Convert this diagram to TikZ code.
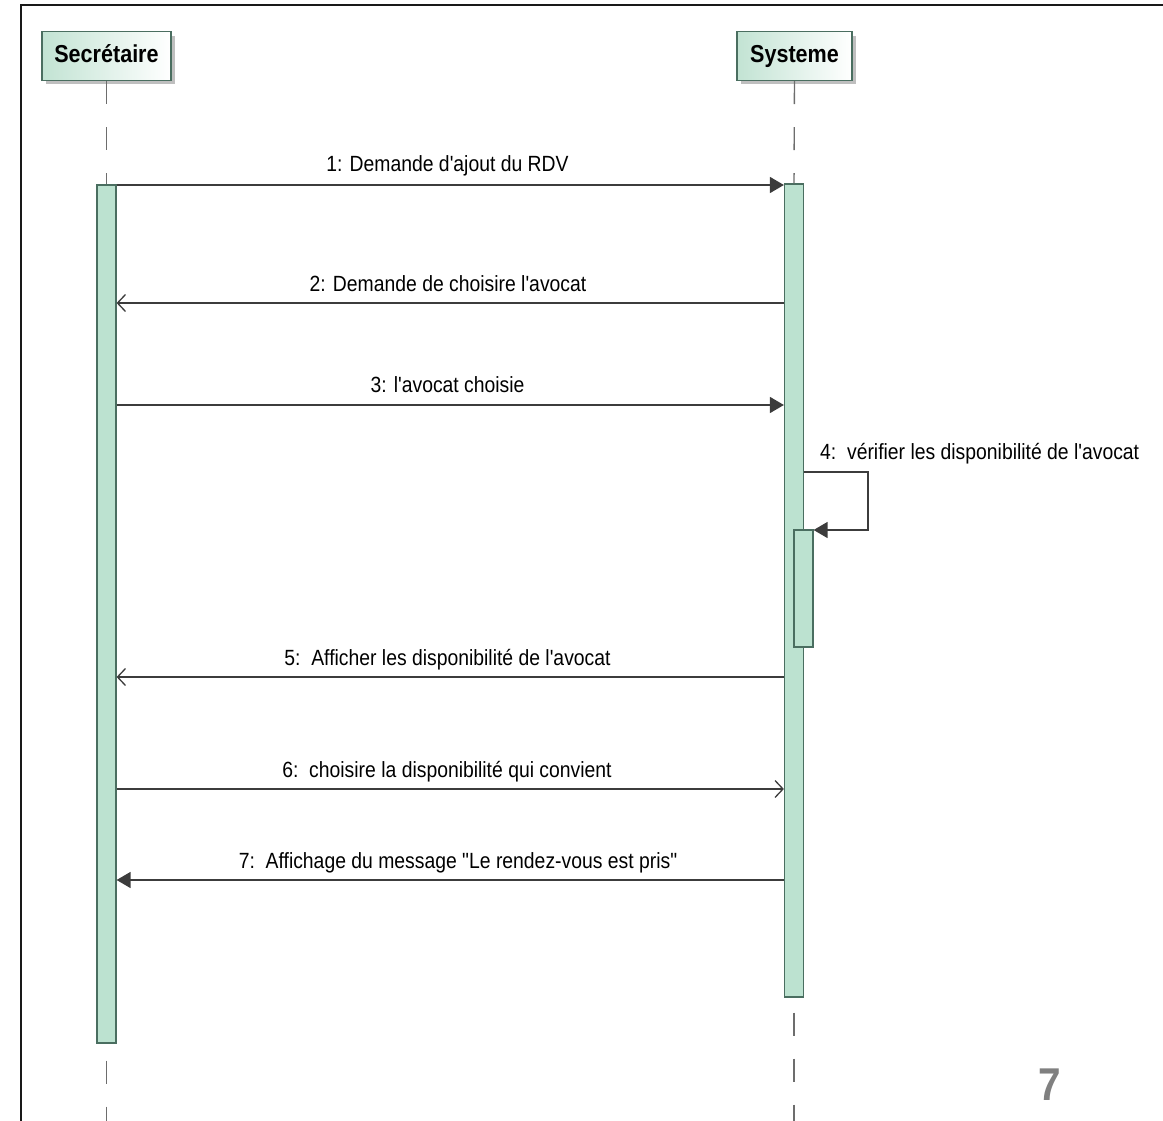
\documentclass[tikz,border=0pt]{standalone}
\usepackage{fontspec}
\setmainfont{Liberation Sans}[FakeStretch=0.88,Ligatures=TeXOff]
\usetikzlibrary{arrows.meta,calc}
\definecolor{barfill}{HTML}{BCE2D0}
\definecolor{barline}{HTML}{4A6E60}
\definecolor{headleft}{HTML}{C2E3D3}
\definecolor{ink}{HTML}{3C3C3C}
\newcommand{\headtext}[1]{\raisebox{4pt}{#1}}
\begin{document}
\begin{tikzpicture}[x=1pt,y=-1pt,
  head/.style={draw=barline,line width=1.4pt,minimum height=49pt,inner sep=0pt,
    left color=headleft,right color=white,
    font=\fontsize{24.5}{28}\selectfont\bfseries,text=black},
  actbar/.style={draw=barline,fill=barfill,line width=1.2pt,minimum width=19pt,inner sep=0pt},
  life/.style={draw=ink!75,line width=1.4pt,dash pattern=on 23pt off 23pt},
  msg/.style={draw=ink,line width=1.5pt},
  filledtip/.style={-{Triangle[length=14pt,width=16pt]}},
  opentip/.style={-{Straight Barb[length=8pt,width=17pt,line width=1.3pt]}},
  lbl/.style={font=\fontsize{22}{26}\selectfont,text=black,anchor=base,inner sep=0pt}]
\useasboundingbox (0,0) rectangle (1163,1121);
% page frame
\draw[line width=2.6pt,black!90] (21,1121) -- (21,5) -- (1163,5);

% lifeline heads with drop shadow
\fill[black!25] (46,36) rectangle (175,84);
\fill[black!25] (741,36) rectangle (856,84);
\node[head,minimum width=129pt] (sec) at (106.5,56) {\headtext{Secrétaire}};
\node[head,minimum width=115pt] (sys) at (794.5,56) {\headtext{Systeme}};

% activation bars
\node[actbar,minimum height=858pt] (secbar) at (106.5,614) {};
\node[actbar,minimum height=813pt] (sysbar) at (794,590.5) {};
\node[actbar,minimum height=117pt] (nest) at (803.5,588.5) {};

% lifelines
\coordinate (secend) at (106.5,1121);
\coordinate (sysend) at (794,1121);
\draw[life] (sec.south) -- (secbar.north);
\draw[life] (sys.south) -- (sysbar.north);
\draw[life,dash phase=29pt] (secbar.south) -- (secend);
\draw[life,dash phase=31pt] (sysbar.south) -- (sysend);

% message end points
\coordinate (m1a) at (secbar.east |- 0,185);  \coordinate (m1b) at (sysbar.west |- 0,185);
\coordinate (m2a) at (sysbar.west |- 0,303);  \coordinate (m2b) at (secbar.east |- 0,303);
\coordinate (m3a) at (secbar.east |- 0,405);  \coordinate (m3b) at (sysbar.west |- 0,405);
\coordinate (m4a) at (sysbar.east |- 0,472);  \coordinate (m4b) at (868,472);
\coordinate (m4c) at (868,530);               \coordinate (m4d) at (nest.east |- 0,530);
\coordinate (m5a) at (sysbar.west |- 0,677);  \coordinate (m5b) at (secbar.east |- 0,677);
\coordinate (m6a) at (secbar.east |- 0,789);  \coordinate (m6b) at (sysbar.west |- 0,789);
\coordinate (m7a) at (sysbar.west |- 0,880);  \coordinate (m7b) at (secbar.east |- 0,880);

% messages
\draw[msg,filledtip] (m1a) -- (m1b);
\draw[msg,opentip] (m2a) -- (m2b);
\draw[msg,filledtip] (m3a) -- (m3b);
\draw[msg,filledtip] (m4a) -- (m4b) -- (m4c) -- (m4d);
\draw[msg,opentip] (m5a) -- (m5b);
\draw[msg,opentip] (m6a) -- (m6b);
\draw[msg,filledtip] (m7a) -- (m7b);

% message labels
\node[lbl] (l1) at (447.5,172) {1: Demande d'ajout du RDV};
\node[lbl] (l2) at (448,291) {2: Demande de choisire l'avocat};
\node[lbl] (l3) at (447.5,392) {3: l'avocat choisie};
\node[lbl,anchor=base west] (l4) at (820,459) {4:\ \ vérifier les disponibilité de l'avocat};
\node[lbl] (l5) at (447.5,665) {5:\ \ Afficher les disponibilité de l'avocat};
\node[lbl] (l6) at (447,777) {6:\ \ choisire la disponibilité qui convient};
\node[lbl] (l7) at (458,868) {7:\ \ Affichage du message "Le rendez-vous est pris"};

% page number
\node[font=\fontsize{46}{50}\selectfont\bfseries,text=black!50,anchor=base,inner sep=0pt] (pg) at (1050,1100) {7};
\end{tikzpicture}
\end{document}
